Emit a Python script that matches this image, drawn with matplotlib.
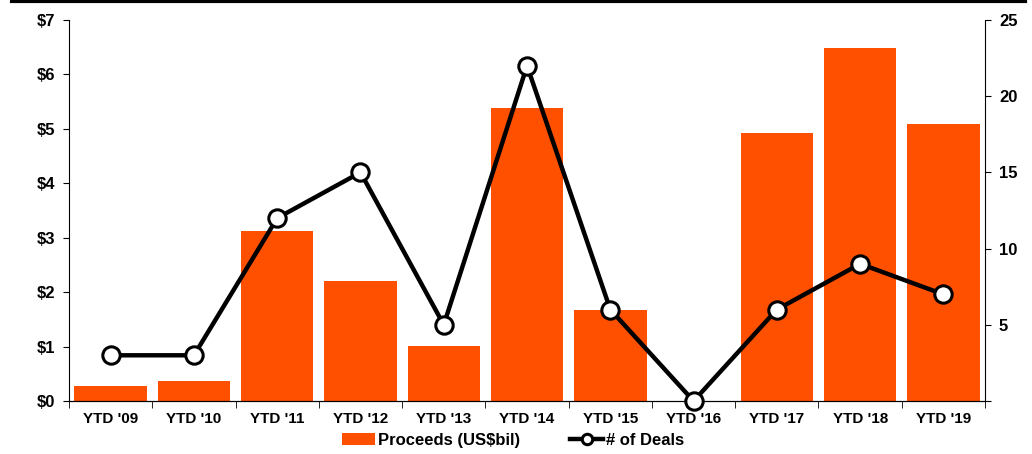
import matplotlib.pyplot as plt
import matplotlib.lines as mlines

plt.rcParams['font.family'] = ['Liberation Sans', 'DejaVu Sans']
plt.rcParams['font.weight'] = 'bold'
plt.rcParams['font.size'] = 11

labels = ["YTD '09", "YTD '10", "YTD '11", "YTD '12", "YTD '13", "YTD '14",
          "YTD '15", "YTD '16", "YTD '17", "YTD '18", "YTD '19"]
proceeds = [0.27, 0.36, 3.12, 2.2, 1.01, 5.39, 1.67, 0.0, 4.93, 6.49, 5.09]
deals = [3, 3, 12, 15, 5, 22, 6, 0, 6, 9, 7]

x = list(range(len(labels)))

fig = plt.figure(figsize=(10.32, 4.54), dpi=100)
ax = fig.add_axes([0.0669, 0.1167, 0.8876, 0.8393])
ax2 = ax.twinx()

ax.bar(x, proceeds, width=0.87, color='#FF5000', label='Proceeds (US$bil)', zorder=2)
ax2.plot(x, deals, color='black', lw=3.2, marker='o', ms=12.5, mfc='white',
         mec='black', mew=2.2, label='# of Deals', zorder=3, clip_on=False)

ax.set_xlim(-0.5, len(labels) - 0.5)
ax.set_ylim(0, 7)
ax2.set_ylim(0, 25)
ax.set_yticks(range(8))
ax.set_yticklabels(['$%d' % v for v in range(8)])
ax2.set_yticks([0, 5, 10, 15, 20, 25])
ax2.set_yticklabels(['', '5', '10', '15', '20', '25'])

ax.set_xticks(x)
ax.set_xticklabels(labels)
ax.set_xticks([i - 0.5 for i in range(len(labels) + 1)], minor=True)
ax.tick_params(axis='x', which='major', length=0, pad=8, labelsize=11)
ax.tick_params(axis='x', which='minor', length=5, direction='out')
ax.tick_params(axis='y', length=4, direction='out', pad=6, labelsize=12)
ax2.tick_params(axis='y', length=4, direction='out', pad=6, labelsize=12)

for a in (ax, ax2):
    a.spines['top'].set_visible(False)
ax.spines['right'].set_visible(False)
ax2.spines['left'].set_visible(False)
ax.set_zorder(ax2.get_zorder() - 1)
ax2.patch.set_visible(False)

fig.add_artist(mlines.Line2D([0.012, 0.993], [0.997, 0.997], color='black', lw=3,
                             transform=fig.transFigure))

h1, l1 = ax.get_legend_handles_labels()
h2, l2 = ax2.get_legend_handles_labels()
fig.legend(h1 + h2, l1 + l2, loc='lower center', bbox_to_anchor=(0.497, -0.02), ncol=2,
           frameon=False, fontsize=12, handlelength=2.0, columnspacing=3.0,
           handletextpad=0.15, markerscale=0.6)

fig.savefig('out.png', dpi=100)
